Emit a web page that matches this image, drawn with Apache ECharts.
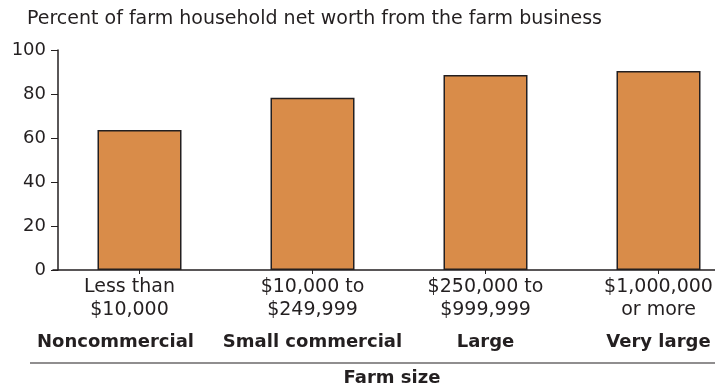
<!DOCTYPE html>
<html>
<head>
<meta charset="utf-8">
<script src="https://cdn.jsdelivr.net/npm/echarts@6/dist/echarts.min.js"></script>
<style>html,body{margin:0;padding:0;background:#fff}#c{width:715px;height:387px}</style>
</head>
<body>
<div id="c"></div>
<script>
const sizeRanges = ['Less than\n$10,000', '$10,000 to\n$249,999', '$250,000 to\n$999,999', '$1,000,000\nor more'];
const farmGroups = ['Noncommercial', 'Small commercial', 'Large', 'Very large'];
const netWorthShare = [63.6, 78.3, 88.6, 90.5];
const yTicks = [0, 20, 40, 60, 80, 100];

const FONT = '"DejaVu Sans", "Liberation Sans", Arial, sans-serif';
const INK = '#231f20';
const chart = echarts.init(document.getElementById('c'), null, {renderer: 'canvas'});
chart.setOption({
  animation: false,
  backgroundColor: '#fff',
  textStyle: {fontFamily: FONT, color: INK},
  title: {
    text: 'Percent of farm household net worth from the farm business',
    left: 27, top: 10, padding: 0,
    textStyle: {fontFamily: FONT, fontSize: 19, fontWeight: 'normal', color: INK}
  },
  grid: {left: 53, right: -30, top: 50, height: 220, containLabel: false, outerBoundsMode: 'none'},
  xAxis: {
    type: 'category',
    data: sizeRanges.map((r, i) => r + '|' + farmGroups[i]),
    axisLine: {lineStyle: {color: INK, width: 1.5}},
    axisTick: {show: true, alignWithLabel: true, length: 4, lineStyle: {color: INK, width: 1}},
    axisLabel: {
      margin: 6,
      interval: 0,
      formatter: function (v, i) {
        const parts = v.split('|');
        const lines = parts[0].split('\n');
        const a = i === 0 ? 'a0' : 'a';
        const b = i === 0 ? 'b0' : 'b';
        return '{' + a + '|' + lines[0] + '}\n{' + a + '|' + lines[1] + '}\n{' + b + '|' + parts[1] + '}';
      },
      rich: {
        a: {fontFamily: FONT, fontSize: 19, color: INK, lineHeight: 23},
        a0: {fontFamily: FONT, fontSize: 19, color: INK, lineHeight: 23, padding: [0, 20, 0, 0]},
        b: {fontFamily: FONT, fontSize: 18, fontWeight: 'bold', color: INK, lineHeight: 40},
        b0: {fontFamily: FONT, fontSize: 18, fontWeight: 'bold', color: INK, lineHeight: 40, padding: [0, 48, 0, 0]}
      }
    }
  },
  yAxis: {
    type: 'value',
    min: yTicks[0], max: yTicks[yTicks.length - 1], interval: 20,
    offset: -5,
    splitLine: {show: false},
    axisLine: {show: true, lineStyle: {color: INK, width: 1.5}},
    axisTick: {show: true, length: 7, lineStyle: {color: INK, width: 1}},
    axisLabel: {fontFamily: FONT, fontSize: 18, color: INK, margin: 12}
  },
  series: [{
    type: 'bar',
    data: netWorthShare,
    barWidth: 84,
    itemStyle: {color: '#d98c49', borderColor: INK, borderWidth: 1.5}
  }],
  graphic: [
    {type: 'line', shape: {x1: 30, y1: 363, x2: 715, y2: 363}, style: {stroke: INK, lineWidth: 1.2}},
    {type: 'text', x: 392, y: 378, style: {text: 'Farm size', font: 'bold 18px ' + FONT, fill: INK, textAlign: 'center', textVerticalAlign: 'middle'}}
  ]
});
</script>
</body>
</html>
